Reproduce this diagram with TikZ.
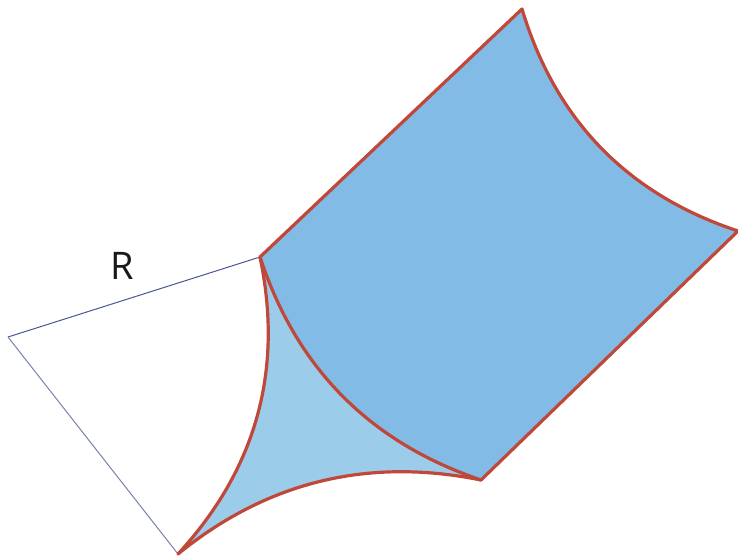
\documentclass[tikz,border=0pt]{standalone}
\usepackage{fontspec}
\setmainfont{Open Sans}
\definecolor{darkfill}{RGB}{130,187,229}
\definecolor{lightfill}{RGB}{155,204,234}
\definecolor{arcred}{RGB}{192,72,58}
\definecolor{navy}{RGB}{75,85,145}
\definecolor{greyblue}{RGB}{120,130,170}
\tikzset{
  redline/.style={draw=arcred, line width=3.2pt, line join=round, line cap=round},
  thinline/.style={line width=1pt},
  lbl/.style={font=\fontsize{38}{38}\selectfont, text=black!90, inner sep=0pt}
}
\begin{document}
\begin{tikzpicture}[x=1pt,y=-1pt]
\useasboundingbox (0,0) rectangle (738,556);
% key points
\coordinate (L) at (8,337);
\coordinate (A) at (260,257);
\coordinate (B) at (178,554);
\coordinate (C) at (481,480);
\coordinate (T) at (522,9);
\coordinate (Rt) at (738,231);
% dark blue region
\fill[darkfill] (A) -- (T) .. controls (555.5,120.4) and (627.5,194.4) .. (Rt) -- (C)
  .. controls (369.7,442.3) and (296.3,368) .. (A) -- cycle;
% light blue region
\fill[lightfill] (A) .. controls (296.3,368) and (369.7,442.3) .. (C)
  .. controls (367.6,457.1) and (267,481.7) .. (B)
  .. controls (256.3,469) and (283.7,370) .. (A) -- cycle;
% thin sides
\draw[thinline, navy] (L) -- (A);
\draw[thinline, greyblue] (L) -- (B);
% red boundaries
\draw[redline] (A) -- (T) .. controls (555.5,120.4) and (627.5,194.4) .. (Rt) -- (C);
\draw[redline] (A) .. controls (296.3,368) and (369.7,442.3) .. (C);
\draw[redline] (B) .. controls (267,481.7) and (367.6,457.1) .. (C);
\draw[redline] (A) .. controls (283.7,370) and (256.3,469) .. (B);
% label
\node[lbl] (rlabel) at (122,266) {R};
\end{tikzpicture}
\end{document}
